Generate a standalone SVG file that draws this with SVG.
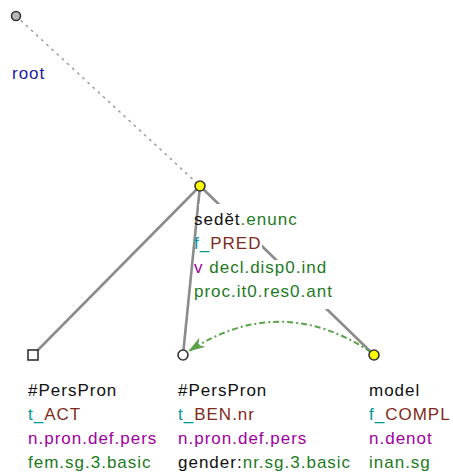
<svg xmlns="http://www.w3.org/2000/svg" width="453" height="476" viewBox="0 0 453 476">
<style>
text{font-family:"Liberation Sans",Arial,sans-serif;font-size:17px;letter-spacing:1px;fill:#111}
.edge{stroke:#8c8c8c;stroke-width:2.6;fill:none;stroke-linecap:round}
.root-edge{stroke:#999;stroke-width:1.6;fill:none;stroke-dasharray:1.5 5.5;stroke-linecap:round}
.coref{stroke:#5aa34a;stroke-width:2;fill:none;stroke-dasharray:6 3 2 3}
.node{stroke:#333;stroke-width:1.6}
.yel{fill:#ffff00}
.wht{fill:#fff}
.gry{fill:#b8b8b8}
.bg{fill:#fff}
.tl{fill:#009999}
.fn{fill:#7f2a1a}
.pu{fill:#a000a0}
.gr{fill:#1e7a1e}
.bl{fill:#1a1aa0}
</style>
<defs>
<marker id="arr" viewBox="0 0 17 11" refX="16" refY="5.5" markerWidth="17" markerHeight="11" markerUnits="userSpaceOnUse" orient="auto">
<path d="M0,0 L17,5.5 L0,11 L5,5.5 z" fill="#5aa34a"/>
</marker>
</defs>
<g id="connectors">
<line class="root-edge" x1="16" y1="16" x2="200" y2="186"/>
<line class="edge" x1="200" y1="186" x2="374" y2="355"/>
<line class="edge" x1="200" y1="186" x2="33" y2="355"/>
<line class="edge" x1="200" y1="186" x2="183" y2="355"/>
<path class="coref" d="M371,352 Q280,292 189,351" marker-end="url(#arr)"/>
</g>
<g id="root">
<circle class="node gry" cx="16" cy="16" r="4.5"/>
<text x="12" y="79" class="bl">root</text>
</g>
<g id="sedet">
<rect class="bg" x="199" y="204" width="103" height="33"/>
<rect class="bg" x="199" y="237" width="63" height="23"/>
<rect class="bg" x="199" y="260" width="131" height="25"/>
<rect class="bg" x="199" y="285" width="133" height="24"/>
<circle class="node yel" cx="200" cy="186" r="5"/>
<text x="194" y="225">sedět<tspan class="gr">.enunc</tspan></text>
<text x="194" y="249"><tspan class="tl">f_</tspan><tspan class="fn">PRED</tspan></text>
<text x="194" y="273"><tspan class="pu">v</tspan><tspan class="gr"> decl.disp0.ind</tspan></text>
<text x="194" y="297" class="gr">proc.it0.res0.ant</text>
</g>
<g id="act">
<rect class="node wht" x="28" y="350" width="10" height="10"/>
<text x="28" y="396">#PersPron</text>
<text x="28" y="420"><tspan class="tl">t_</tspan><tspan class="fn">ACT</tspan></text>
<text x="28" y="444" class="pu">n.pron.def.pers</text>
<text x="28" y="468" class="gr">fem.sg.3.basic</text>
</g>
<g id="ben">
<circle class="node wht" cx="183" cy="355" r="5"/>
<text x="178" y="396">#PersPron</text>
<text x="178" y="420"><tspan class="tl">t_</tspan><tspan class="fn">BEN.nr</tspan></text>
<text x="178" y="444" class="pu">n.pron.def.pers</text>
<text x="178" y="468">gender:<tspan class="gr">nr.sg.3.basic</tspan></text>
</g>
<g id="model">
<circle class="node yel" cx="374" cy="355" r="5"/>
<text x="369" y="396">model</text>
<text x="369" y="420"><tspan class="tl">f_</tspan><tspan class="fn">COMPL</tspan></text>
<text x="369" y="444" class="pu">n.denot</text>
<text x="369" y="468" class="gr">inan.sg</text>
</g>
</svg>
